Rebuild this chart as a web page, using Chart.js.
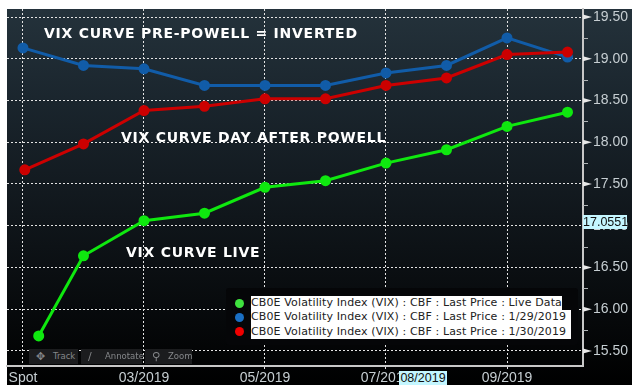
<!DOCTYPE html>
<html>
<head>
<meta charset="utf-8">
<title>VIX curve</title>
<script src="https://cdn.jsdelivr.net/npm/chart.js@4"></script>
<style>
  html, body { margin: 0; padding: 0; background: #fff; }
  #wrap { position: relative; width: 640px; height: 390px; overflow: hidden; }
  #panel { position: absolute; left: 7px; top: 9px; width: 625px; height: 376px;
           background: linear-gradient(#24323b 0%, #1a252d 25%, #10161b 55%, #000 100%); }
  canvas { position: absolute; left: 0; top: 0; }
  .note { position: absolute; color: #fff; white-space: nowrap; font: bold 14px "DejaVu Sans", sans-serif;
          letter-spacing: 0.75px; line-height: 16px; }
  .badge { position: absolute; background: #c4f6ff; color: #111; font: 12.5px "Liberation Sans", sans-serif;
           line-height: 14px; text-align: center; }
  #legend { position: absolute; left: 226px; top: 288px; width: 352px; height: 57px; background: #050608; border-radius: 3px; }
  .row { position: absolute; left: 25px; height: 14.4px; line-height: 14px; background: #fff; color: #222;
         font: 11px "DejaVu Sans", sans-serif; letter-spacing: 0.13px; white-space: nowrap; }
  .dot { position: absolute; left: 9px; width: 9px; height: 9px; border-radius: 50%; }
  .tool { position: absolute; top: 349px; height: 15px; background: #1b1c1e; color: #85878a;
          font: 8.5px "DejaVu Sans", sans-serif; line-height: 15px; }
  .tool i { position: absolute; left: 7px; font-style: normal; font-size: 11px; }
  .tool b { position: absolute; font-weight: normal; }
</style>
</head>
<body>
<div id="wrap">
  <div id="panel"></div>
  <canvas id="curveChart" width="640" height="390"></canvas>

  <div class="note" style="left:44px;top:25px">VIX CURVE PRE-POWELL = INVERTED</div>
  <div class="note" style="left:121px;top:129px">VIX CURVE DAY AFTER POWELL</div>
  <div class="note" style="left:126px;top:244px">VIX CURVE LIVE</div>

  <div class="tool" style="left:29px;width:49px"><i>✥</i><b style="left:24px">Track</b></div>
  <div class="tool" style="left:81px;width:61px"><i>∕</i><b style="left:24px">Annotate</b></div>
  <div class="tool" style="left:145px;width:47px"><i>⚲</i><b style="left:23px">Zoom</b></div>

  <div id="legend"></div>
  <div class="badge" style="left:583px;top:215px;width:44px;height:14px">17.0551</div>
  <div class="badge" style="left:399px;top:371px;width:48px;height:14px">08/2019</div>
</div>

<script>
// Values
const curveX = [0, 1, 2, 3, 4, 5, 6, 7, 8, 9];
const liveX = [0.26, 1, 2, 3, 4, 5, 6, 7, 8, 9];
const after0130X = [0.03, 1, 2, 3, 4, 5, 6, 7, 8, 9];

const liveData = [15.68, 16.64, 17.06, 17.15, 17.46, 17.54, 17.75, 17.91, 18.19, 18.36];
const pre0129 = [19.13, 18.92, 18.88, 18.68, 18.68, 18.68, 18.83, 18.92, 19.25, 19.02];
const after0130 = [17.67, 17.98, 18.38, 18.43, 18.52, 18.52, 18.68, 18.77, 19.05, 19.08];

const xTicks = [0, 2, 4, 6, 8];
const xLabels = ['Spot', '03/2019', '05/2019', '07/2019', '09/2019'];
const yTicks = [15.5, 16, 16.5, 17, 17.5, 18, 18.5, 19, 19.5];
const yMinorTicks = [15.75, 16.25, 16.75, 17.25, 17.75, 18.25, 18.75, 19.25];

const legendNames = [
  'CB0E Volatility Index (VIX) : CBF : Last Price : Live Data',
  'CB0E Volatility Index (VIX) : CBF : Last Price : 1/29/2019',
  'CB0E Volatility Index (VIX) : CBF : Last Price : 1/30/2019',
];
const legendColors = ['#3fe23f', '#1a6fc4', '#f00000'];
const legendWidths = [311, 320, 320];

const toPoints = (xs, ys) => xs.map((x, i) => ({ x, y: ys[i] }));

function line(label, data, color, order) {
  return {
    label, data, order,
    borderColor: color,
    backgroundColor: color,
    borderWidth: 3,
    pointRadius: 4,
    tension: 0,
  };
}

// keep the plot box fixed, labels may overhang it
function fixAxis(axis, size) {
  if (axis.isHorizontal()) axis.height = size;
  else axis.width = size;
  axis.paddingTop = axis.paddingBottom = axis.paddingLeft = axis.paddingRight = 0;
}

// ─── Right axis tick marks ────────────────────────────────────────

const axisMarks = {
  id: 'axisMarks',
  afterDraw(chart) {
    const { ctx, scales: { y }, chartArea } = chart;
    const x0 = chartArea.right;
    ctx.save();
    ctx.fillStyle = '#e8e8e8';
    yTicks.forEach((v) => {
      const py = y.getPixelForValue(v);
      ctx.beginPath();
      ctx.moveTo(x0, py - 2.5);
      ctx.lineTo(x0 + 9, py);
      ctx.lineTo(x0, py + 2.5);
      ctx.fill();
    });
    ctx.fillStyle = '#b0b4b6';
    yMinorTicks.forEach((v) => {
      ctx.fillRect(x0, Math.round(y.getPixelForValue(v)), 5, 1);
    });
    ctx.restore();
  },
};

// ─── Chart ────────────────────────────────────────────────────────

new Chart(document.getElementById('curveChart'), {
  type: 'line',
  data: {
    datasets: [
      line('Live Data', toPoints(liveX, liveData), '#0fe80f', 2),
      line('1/29/2019', toPoints(curveX, pre0129), '#115ca8', 1),
      line('1/30/2019', toPoints(after0130X, after0130), '#cc0000', 0),
    ],
  },
  options: {
    responsive: false,
    animation: false,
    layout: { autoPadding: false, padding: { left: 7, top: 9, right: 8, bottom: 5 } },
    plugins: { legend: { display: false }, tooltip: { enabled: false } },
    scales: {
      x: {
        type: 'linear',
        min: -0.264,
        max: 9.256,
        afterBuildTicks: (axis) => { axis.ticks = xTicks.map((value) => ({ value })); },
        afterFit: (axis) => fixAxis(axis, 19),
        grid: { color: '#e4e4e4', tickColor: '#e4e4e4', tickLength: 4, tickBorderDash: [2, 2] },
        border: { color: '#c8c8c8', width: 2, dash: [2, 2] },
        ticks: {
          color: '#c6ced2',
          font: { family: 'Liberation Sans', size: 14 },
          padding: 0,
          maxRotation: 0,
          autoSkip: false,
          callback: (v) => xLabels[xTicks.indexOf(v)],
        },
      },
      y: {
        position: 'right',
        min: 15.32,
        max: 19.596,
        afterBuildTicks: (axis) => { axis.ticks = yTicks.map((value) => ({ value })); },
        afterFit: (axis) => fixAxis(axis, 49),
        grid: { color: '#e4e4e4', drawTicks: false },
        border: { color: '#c8c8c8', width: 2, dash: [2, 2] },
        ticks: {
          color: '#c6ced2',
          font: { family: 'Liberation Sans', size: 14 },
          padding: 10,
          autoSkip: false,
          callback: (v) => v.toFixed(2),
        },
      },
    },
  },
  plugins: [axisMarks],
});

// ─── Legend ───────────────────────────────────────────────────────

const legendEl = document.getElementById('legend');
legendNames.forEach((name, i) => {
  const top = 8 + i * 14.3;
  legendEl.insertAdjacentHTML('beforeend',
    `<span class="dot" style="top:${top + 2.5}px;background:${legendColors[i]}"></span>` +
    `<div class="row" style="top:${top}px;width:${legendWidths[i]}px">${name}</div>`);
});
</script>
</body>
</html>
